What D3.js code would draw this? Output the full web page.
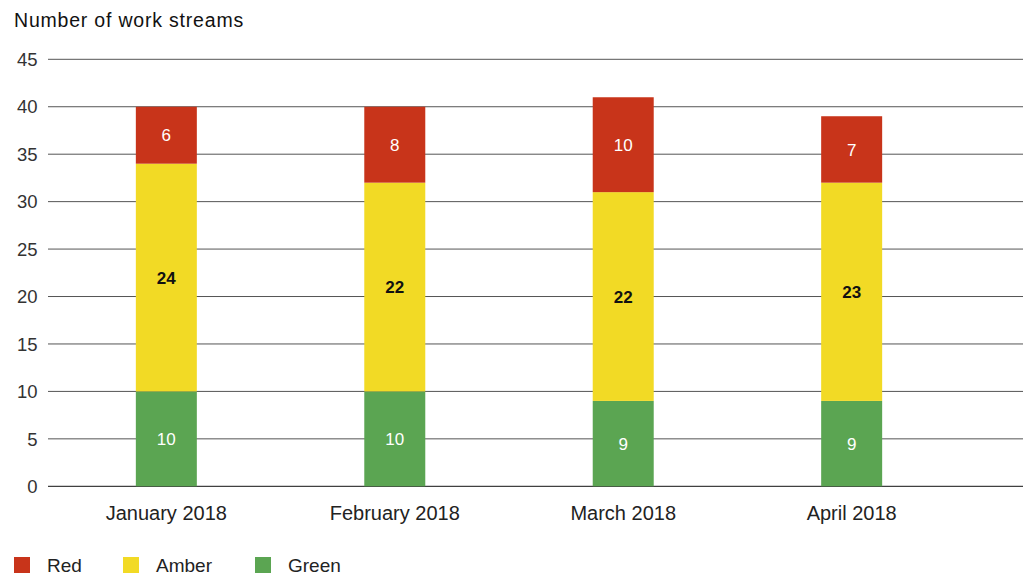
<!DOCTYPE html>
<html>
<head>
<meta charset="utf-8">
<script src="https://cdn.jsdelivr.net/npm/d3@7"></script>
<style>
  html, body { margin: 0; padding: 0; background: #fff; }
  svg { display: block; font-family: "Liberation Sans", Arial, Helvetica, sans-serif; }
</style>
</head>
<body>
<svg id="chart" width="1025" height="576"></svg>
<script>
// Work stream status per month (stacked from the bottom: Green, Amber, Red)
const months = ["January 2018", "February 2018", "March 2018", "April 2018"];
const green = [10, 10, 9, 9];
const amber = [24, 22, 22, 23];
const red = [6, 8, 10, 7];
const yTicks = [0, 5, 10, 15, 20, 25, 30, 35, 40, 45];
const seriesNames = ["Red", "Amber", "Green"];
const seriesColors = { Red: "#C8341A", Amber: "#F2DA25", Green: "#5BA552" };
const labelColors = { Red: "#ffffff", Amber: "#111111", Green: "#ffffff" };

const rows = months.map((m, i) => ({ month: m, Green: green[i], Amber: amber[i], Red: red[i] }));
const stackOrder = ["Green", "Amber", "Red"];
const stacked = d3.stack().keys(stackOrder)(rows);

const svg = d3.select("#chart");

const y = d3.scaleLinear().domain([0, 45]).range([486.3, 59.3]);
const x = d3.scaleBand().domain(months).range([52, 966]).paddingInner(0.733).paddingOuter(0.367);

// Gridlines
svg.append("g")
  .selectAll("line")
  .data(yTicks)
  .join("line")
  .attr("x1", 48).attr("x2", 1023)
  .attr("y1", d => y(d)).attr("y2", d => y(d))
  .attr("stroke", d => d === 0 ? "#111" : "#555")
  .attr("stroke-width", 1);

// Y tick labels
svg.append("g")
  .selectAll("text")
  .data(yTicks)
  .join("text")
  .attr("x", 37.5)
  .attr("y", d => y(d))
  .attr("dy", "0.36em")
  .attr("text-anchor", "end")
  .attr("font-size", 18.5)
  .attr("fill", "#333")
  .text(d => d);

// Title
svg.append("text")
  .attr("x", 14).attr("y", 27.3)
  .attr("font-size", 19.5)
  .attr("fill", "#111")
  .attr("letter-spacing", 0.8)
  .text("Number of work streams");

// Bars
const layers = svg.append("g").selectAll("g")
  .data(stacked)
  .join("g")
  .attr("fill", d => seriesColors[d.key]);

layers.selectAll("rect")
  .data(d => d.map(v => ({ key: d.key, v })))
  .join("rect")
  .attr("x", d => x(d.v.data.month))
  .attr("width", x.bandwidth())
  .attr("y", d => y(d.v[1]))
  .attr("height", d => y(d.v[0]) - y(d.v[1]));

// Segment value labels
layers.selectAll("text")
  .data(d => d.map(v => ({ key: d.key, v })))
  .join("text")
  .attr("x", d => x(d.v.data.month) + x.bandwidth() / 2)
  .attr("y", d => (y(d.v[0]) + y(d.v[1])) / 2)
  .attr("dy", "0.36em")
  .attr("text-anchor", "middle")
  .attr("font-size", 17)
  .attr("font-weight", d => d.key === "Amber" ? "bold" : "normal")
  .attr("fill", d => labelColors[d.key])
  .text(d => d.v.data[d.key]);

// X category labels
svg.append("g")
  .selectAll("text")
  .data(months)
  .join("text")
  .attr("x", d => x(d) + x.bandwidth() / 2)
  .attr("y", 520)
  .attr("text-anchor", "middle")
  .attr("font-size", 20)
  .attr("fill", "#222")
  .text(d => d);

// Legend
const legendX = [14, 123, 255];
const legend = svg.append("g")
  .selectAll("g")
  .data(seriesNames)
  .join("g")
  .attr("transform", (d, i) => `translate(${legendX[i]},557)`);
legend.append("rect")
  .attr("width", 16).attr("height", 16)
  .attr("fill", d => seriesColors[d]);
legend.append("text")
  .attr("x", 33).attr("y", 14.5)
  .attr("font-size", 19)
  .attr("fill", "#222")
  .text(d => d);
</script>
</body>
</html>
